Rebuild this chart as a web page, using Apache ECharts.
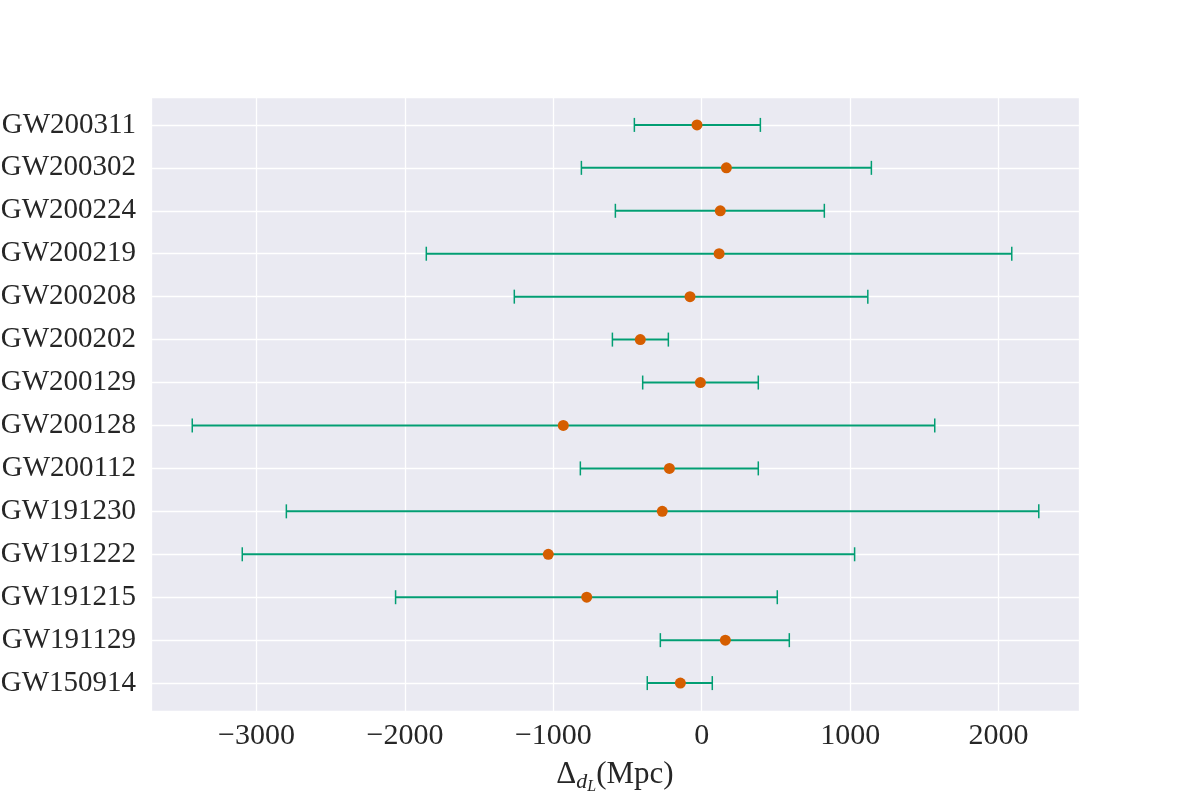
<!DOCTYPE html>
<html>
<head>
<meta charset="utf-8">
<script src="https://cdn.jsdelivr.net/npm/echarts@6/dist/echarts.min.js"></script>
<style>
html, body { margin: 0; padding: 0; background: #fff; }
#main { width: 1200px; height: 800px; }
</style>
</head>
<body>
<div id="main"></div>
<script>
// events, bottom to top
var events = ['GW150914', 'GW191129', 'GW191215', 'GW191222', 'GW191230', 'GW200112', 'GW200128',
              'GW200129', 'GW200202', 'GW200208', 'GW200219', 'GW200224', 'GW200302', 'GW200311'];
// delta d_L (Mpc): central value and error bar ends
var center = [-144, 159, -775, -1034, -266, -218, -933, -9, -414, -79, 117, 125, 166, -32];
var lower = [-367, -279, -2063, -3096, -2799, -818, -3433, -398, -602, -1263, -1856, -582, -811, -454];
var upper = [71, 590, 509, 1030, 2271, 381, 1570, 381, -225, 1119, 2089, 826, 1143, 395];

var green = '#029E73';
var orange = '#D55E00';
var font = 'Liberation Serif';

var barData = [];
var dotData = [];
for (var i = 0; i < events.length; i++) {
    barData.push([i, lower[i], upper[i]]);
    dotData.push([center[i], i]);
}

var myChart = echarts.init(document.getElementById('main'));

var option = {
    animation: false,
    backgroundColor: '#ffffff',
    grid: {
        left: 151,
        right: 121,
        top: 97,
        bottom: 89,
        outerBoundsMode: 'none',
        containLabel: false,
        show: true,
        backgroundColor: '#EAEAF2',
        borderWidth: 0
    },
    xAxis: {
        type: 'value',
        min: -3711,
        max: 2542,
        minInterval: 1000,
        maxInterval: 1000,
        axisLine: { show: false },
        axisTick: { show: false },
        splitLine: { lineStyle: { color: '#ffffff', width: 1.3 } },
        axisLabel: {
            fontFamily: font,
            fontSize: 30,
            color: '#262626',
            margin: 10,
            formatter: function (v) {
                if (Math.abs(v / 1000 - Math.round(v / 1000)) > 1e-6) return '';
                return v < 0 ? '\u2212' + (-v) : String(v);
            }
        },
        name: '{m|\u0394}{d|d}{l|L}{m|(Mpc)}',
        nameLocation: 'middle',
        nameGap: 44,
        nameTextStyle: {
            rich: {
                m: { fontFamily: font, fontSize: 31, color: '#262626' },
                d: { fontFamily: font, fontStyle: 'italic', fontSize: 22, color: '#262626', padding: [14, 0, 0, 0] },
                l: { fontFamily: font, fontStyle: 'italic', fontSize: 16, color: '#262626', padding: [24, 0, 0, 0] }
            }
        }
    },
    yAxis: {
        type: 'value',
        min: -0.65,
        max: 13.65,
        splitNumber: 14,
        minInterval: 1,
        maxInterval: 1,
        axisLine: { show: false },
        axisTick: { show: false },
        splitLine: { lineStyle: { color: '#ffffff', width: 1.3 } },
        axisLabel: {
            fontFamily: font,
            fontSize: 29,
            color: '#262626',
            margin: 15,
            formatter: function (v) {
                var k = Math.round(v);
                if (Math.abs(v - k) > 1e-6 || !events[k]) return '';
                return events[k];
            }
        }
    },
    series: [
        {
            type: 'custom',
            data: barData,
            encode: { x: [1, 2], y: 0 },
            z: 2,
            renderItem: function (params, api) {
                var y = api.value(0);
                var p0 = api.coord([api.value(1), y]);
                var p1 = api.coord([api.value(2), y]);
                var cap = 7;
                return {
                    type: 'group',
                    children: [
                        { type: 'line', shape: { x1: p0[0], y1: p0[1], x2: p1[0], y2: p1[1] },
                          style: { stroke: green, lineWidth: 2 } },
                        { type: 'line', shape: { x1: p0[0], y1: p0[1] - cap, x2: p0[0], y2: p0[1] + cap },
                          style: { stroke: green, lineWidth: 1.5 } },
                        { type: 'line', shape: { x1: p1[0], y1: p1[1] - cap, x2: p1[0], y2: p1[1] + cap },
                          style: { stroke: green, lineWidth: 1.5 } }
                    ]
                };
            }
        },
        {
            type: 'scatter',
            data: dotData,
            symbol: 'circle',
            symbolSize: 11,
            z: 3,
            itemStyle: { color: orange, opacity: 1 }
        }
    ]
};

myChart.setOption(option);
</script>
</body>
</html>
